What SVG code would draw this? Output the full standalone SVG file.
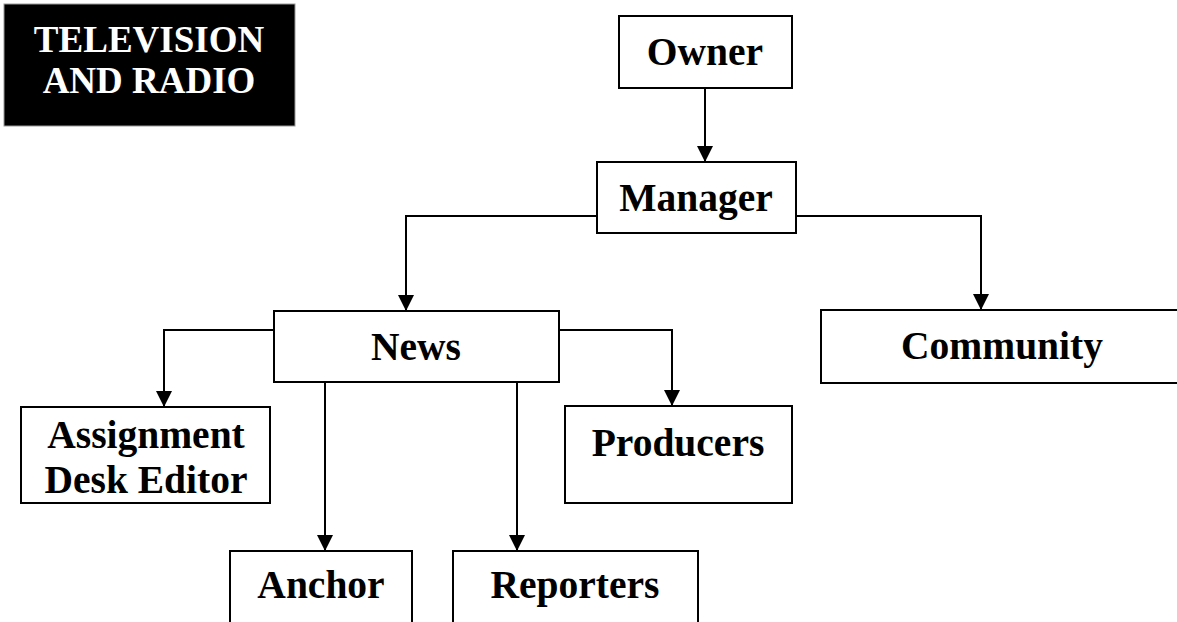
<svg xmlns="http://www.w3.org/2000/svg" width="1177" height="622" viewBox="0 0 1177 622">
<style>
.box{fill:#fff;stroke:#000;stroke-width:2}
.lbl{font-family:"Liberation Serif","Times New Roman",serif;font-weight:bold;font-size:39.5px;fill:#000;text-anchor:middle}
.ttl{font-family:"Liberation Serif","Times New Roman",serif;font-weight:bold;font-size:37px;fill:#fff;text-anchor:middle}
.ln{fill:none;stroke:#000;stroke-width:2}
</style>
<defs>
<marker id="ah" markerUnits="userSpaceOnUse" markerWidth="16" markerHeight="19" refX="16" refY="8" orient="auto">
<path d="M0,0 L16,8 L0,16 Z" fill="#000"/>
</marker>
</defs>
<rect width="1177" height="622" fill="#fff"/>
<g id="title">
<rect x="4" y="4" width="291" height="122" fill="#000" stroke="#999" stroke-width="1"/>
<text class="ttl" x="149" y="52">TELEVISION</text>
<text class="ttl" x="149" y="93">AND RADIO</text>
</g>
<g id="connectors">
<path class="ln" d="M705,88 L705,162" marker-end="url(#ah)"/>
<path class="ln" d="M597,216 L406,216 L406,311" marker-end="url(#ah)"/>
<path class="ln" d="M796,216 L981,216 L981,310" marker-end="url(#ah)"/>
<path class="ln" d="M274,330 L164,330 L164,407" marker-end="url(#ah)"/>
<path class="ln" d="M559,330 L672,330 L672,406" marker-end="url(#ah)"/>
<path class="ln" d="M325,382 L325,551" marker-end="url(#ah)"/>
<path class="ln" d="M517,382 L517,551" marker-end="url(#ah)"/>
</g>
<g id="owner">
<rect class="box" x="619" y="16" width="173" height="72"/>
<text class="lbl" x="705" y="65">Owner</text>
</g>
<g id="manager">
<rect class="box" x="597" y="162" width="199" height="71"/>
<text class="lbl" x="696" y="211">Manager</text>
</g>
<g id="news">
<rect class="box" x="274" y="311" width="285" height="71"/>
<text class="lbl" x="416" y="360">News</text>
</g>
<g id="community">
<rect class="box" x="821" y="310" width="380" height="73"/>
<text class="lbl" x="1002" y="359">Community</text>
</g>
<g id="assignment">
<rect class="box" x="21" y="407" width="249" height="96"/>
<text class="lbl" x="146" y="448">Assignment</text>
<text class="lbl" x="146" y="493">Desk Editor</text>
</g>
<g id="producers">
<rect class="box" x="565" y="406" width="227" height="97"/>
<text class="lbl" x="678" y="456">Producers</text>
</g>
<g id="anchor">
<rect class="box" x="230" y="551" width="182" height="90"/>
<text class="lbl" x="321" y="598">Anchor</text>
</g>
<g id="reporters">
<rect class="box" x="453" y="551" width="245" height="90"/>
<text class="lbl" x="575" y="598">Reporters</text>
</g>
</svg>
